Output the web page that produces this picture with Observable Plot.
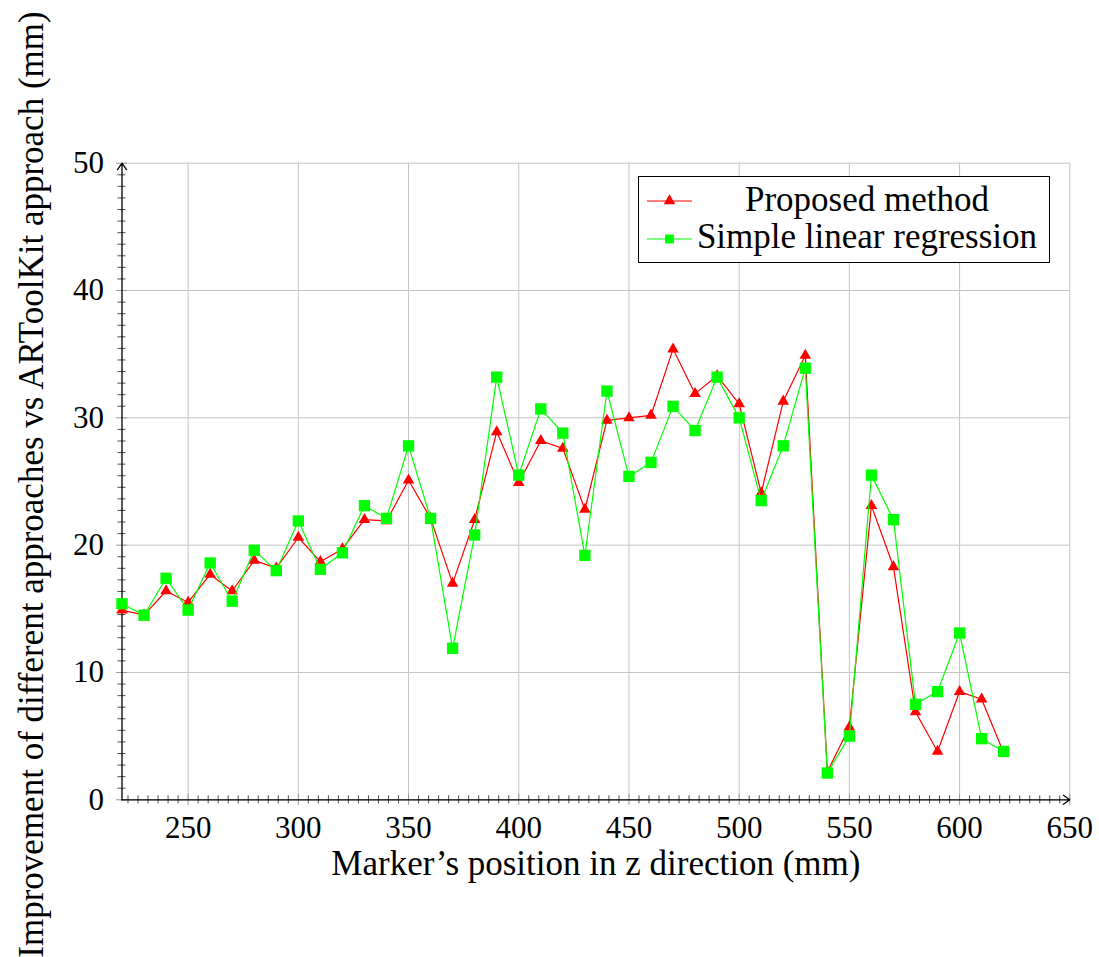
<!DOCTYPE html>
<html>
<head>
<meta charset="utf-8">
<script src="https://cdn.jsdelivr.net/npm/d3@7"></script>
<script src="https://cdn.jsdelivr.net/npm/@observablehq/plot@0.6"></script>
<style>
  html, body { margin: 0; padding: 0; background: #fff; }
  #wrap { position: relative; width: 1099px; height: 957px; overflow: hidden; }
  #legend { position: absolute; left: 0; top: 0; }
</style>
</head>
<body>
<div id="wrap"></div>
<script>
// ---- data ----
const positions = [220,230,240,250,260,270,280,290,300,310,320,330,340,350,360,370,380,390,400,410,420,430,440,450,460,470,480,490,500,510,520,530,540,550,560,570,580,590,600,610,620];
const proposed = [14.9,14.5,16.4,15.5,17.7,16.4,18.8,18.2,20.6,18.7,19.7,22.0,21.9,25.1,22.1,17.0,22.0,28.9,24.9,28.2,27.6,22.8,29.8,30.0,30.2,35.4,31.9,33.3,31.1,24.1,31.3,34.9,2.2,5.7,23.1,18.3,6.9,3.8,8.5,7.9,3.7];
const regression = [15.4,14.5,17.4,14.9,18.6,15.6,19.6,18.0,21.9,18.1,19.4,23.1,22.1,27.8,22.1,11.9,20.8,33.2,25.5,30.7,28.8,19.2,32.1,25.4,26.5,30.9,29.0,33.2,30.0,23.5,27.8,33.9,2.1,5.0,25.5,22.0,7.5,8.5,13.1,4.8,3.8];
const seriesNames = ["Proposed method", "Simple linear regression"];
const xTicks = [250,300,350,400,450,500,550,600,650];
const yTicks = [0,10,20,30,40,50];
const xDomain = [220, 650];
const yDomain = [0, 50];
const xLabel = "Marker\u2019s position in z direction (mm)";
const yLabel = "Improvement of different approaches vs ARToolKit approach (mm)";

// ---- derived ----
const rows = positions.map((x, i) => ({x, proposed: proposed[i], regression: regression[i]}));
function minorTicks(majors, domain, n) {
  const step = majors[1] - majors[0];
  const out = [];
  for (let m = majors[0] - step; m <= domain[1]; m += step) {
    for (let k = 1; k <= n; k++) {
      const v = m + k * step / (n + 1);
      if (v >= domain[0] - 1e-9 && v <= domain[1] + 1e-9) out.push(v);
    }
  }
  return out;
}
const xMinor = minorTicks(xTicks, xDomain, 10);
const yMinor = minorTicks(yTicks, yDomain, 10);

const FONT = "'Liberation Serif', 'Times New Roman', serif";
const RED = "#ff0000", GREEN = "#00ff00", GRID = "#c4c4c4";

const chart = Plot.plot({
  width: 1099,
  height: 957,
  marginLeft: 121.5,
  marginRight: 29.7,
  marginTop: 162.7,
  marginBottom: 157.7,
  x: {domain: xDomain, label: null},
  y: {domain: yDomain, label: null},
  style: {fontFamily: FONT, background: "white", color: "black", overflow: "visible"},
  marks: [
    Plot.gridX(xTicks, {stroke: GRID, strokeOpacity: 1, strokeWidth: 1}),
    Plot.gridY(yTicks, {stroke: GRID, strokeOpacity: 1, strokeWidth: 1}),
    // minor ticks crossing the axis
    Plot.axisX(xMinor, {tickSize: 8, dy: -4, tickFormat: () => "", label: null, stroke: "#222", strokeWidth: 0.8}),
    Plot.axisY(yMinor, {tickSize: 8, dx: 4, tickFormat: () => "", label: null, stroke: "#222", strokeWidth: 0.8}),
    // major ticks
    Plot.axisX(xTicks, {tickSize: 11, dy: -5.5, tickFormat: () => "", label: null, stroke: "#999", strokeWidth: 1}),
    Plot.axisY(yTicks, {tickSize: 11, dx: 5.5, tickFormat: () => "", label: null, stroke: "#999", strokeWidth: 1}),
    // tick labels
    Plot.axisX(xTicks, {tickSize: 0, tickPadding: 16, fontSize: 31, label: null, tickFormat: d => String(d)}),
    Plot.axisY(yTicks, {tickSize: 0, tickPadding: 18, fontSize: 31, label: null, tickFormat: d => String(d)}),
    // axis lines with arrows
    Plot.arrow([0], {x1: xDomain[0], x2: xDomain[1], y1: yDomain[0], y2: yDomain[0], stroke: "black", strokeWidth: 1.3, headLength: 9, headAngle: 70}),
    Plot.arrow([0], {x1: xDomain[0], x2: xDomain[0], y1: yDomain[0], y2: yDomain[1], stroke: "black", strokeWidth: 1.3, headLength: 9, headAngle: 70}),
    // series
    Plot.line(rows, {x: "x", y: "proposed", stroke: RED, strokeWidth: 1.2}),
    Plot.dot(rows, {x: "x", y: "proposed", symbol: "triangle", r: 4.3, fill: RED, stroke: "none"}),
    Plot.line(rows, {x: "x", y: "regression", stroke: GREEN, strokeWidth: 1.2}),
    Plot.dot(rows, {x: "x", y: "regression", symbol: "square", r: 6.4, fill: GREEN, stroke: "none"}),
    // axis titles
    Plot.text([xLabel], {text: d => d, frameAnchor: "bottom", dy: 64, fontSize: 35, lineAnchor: "middle", textAnchor: "middle", fill: "black"}),
    Plot.text([yLabel], {text: d => d, frameAnchor: "left", rotate: -90, dx: -90.5, dy: 3, fontSize: 35, lineAnchor: "middle", textAnchor: "middle", fill: "black"})
  ]
});
document.getElementById("wrap").appendChild(chart);

// ---- legend (overlay) ----
const lg = d3.select("#wrap").append("svg")
  .attr("id", "legend")
  .attr("width", 1099).attr("height", 957)
  .style("pointer-events", "none");
lg.append("rect")
  .attr("x", 638.5).attr("y", 176.5).attr("width", 411).attr("height", 86)
  .attr("fill", "white").attr("stroke", "black").attr("stroke-width", 1);
const entries = [
  {name: seriesNames[0], color: RED, symbol: d3.symbolTriangle, size: Math.PI * 4.3 * 4.3, cy: 201, base: 210.5},
  {name: seriesNames[1], color: GREEN, symbol: d3.symbolSquare, size: Math.PI * 5 * 5, cy: 239, base: 248}
];
for (const e of entries) {
  lg.append("line").attr("x1", 647).attr("x2", 692).attr("y1", e.cy).attr("y2", e.cy)
    .attr("stroke", e.color).attr("stroke-width", 1.2);
  lg.append("path").attr("d", d3.symbol(e.symbol, e.size)())
    .attr("transform", `translate(669.5,${e.cy})`).attr("fill", e.color);
  lg.append("text").attr("x", 867).attr("y", e.base)
    .attr("text-anchor", "middle").attr("font-family", FONT).attr("font-size", 35)
    .attr("fill", "black").text(e.name);
}
</script>
</body>
</html>
